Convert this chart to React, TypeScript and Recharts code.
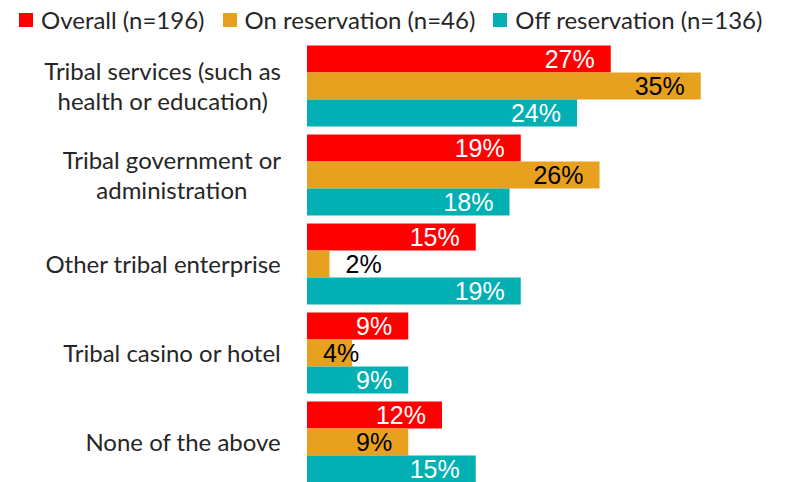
import { BarChart, Bar, XAxis, YAxis, Legend, LabelList } from 'recharts';

const categories = [
  'Tribal services (such as health or education)',
  'Tribal government or administration',
  'Other tribal enterprise',
  'Tribal casino or hotel',
  'None of the above',
];
const tickLines = [
  ['Tribal services (such as', 'health or education)'],
  ['Tribal government or', 'administration'],
  ['Other tribal enterprise'],
  ['Tribal casino or hotel'],
  ['None of the above'],
];
const overall = [27, 19, 15, 9, 12];
const onReservation = [35, 26, 2, 4, 9];
const offReservation = [24, 18, 19, 9, 15];

const seriesNames = ['Overall (n=196)', 'On reservation (n=46)', 'Off reservation (n=136)'];
const colors = ['#FF0000', '#E7A11F', '#02AFB3'];
const labelColors = ['#FFFFFF', '#000000', '#FFFFFF'];

const data = categories.map((name, i) => ({
  name,
  overall: overall[i],
  onRes: onReservation[i],
  offRes: offReservation[i],
}));

const catFont = 'Lato, "Open Sans", sans-serif';
const catSize = 24;
const labelSize = 25;
const labelFont = '"Liberation Sans", Arial, sans-serif';

const measure = (txt: string, font: string) => {
  const c = document.createElement('canvas').getContext('2d');
  if (!c) return txt.length * 10;
  c.font = font;
  return c.measureText(txt).width;
};

const CategoryTick = (props: any) => {
  const { x, y, payload } = props;
  const idx = categories.indexOf(payload.value);
  const lines = tickLines[idx] || [payload.value];
  const font = `${catSize}px ${catFont}`;
  const maxW = Math.max(...lines.map((l) => measure(l, font)));
  const cx = x - maxW / 2;
  const lh = 30;
  const startY = y - ((lines.length - 1) * lh) / 2;
  return (
    <text textAnchor="middle" fontFamily={catFont} fontSize={catSize} fill="#262626">
      {lines.map((l, i) => (
        <tspan key={i} x={cx} y={startY + i * lh + 8}>
          {l}
        </tspan>
      ))}
    </text>
  );
};

const makeLabel = (color: string) => (props: any) => {
  const { x, y, width, height, value } = props;
  const txt = `${value}%`;
  const tw = measure(txt, `${labelSize}px ${labelFont}`);
  let start = x + width - 16 - tw;
  if (width < 30) start = x + width + 16;
  else if (start < x + 16) start = x + 16;
  return (
    <text x={start} y={y + height / 2 + 9} textAnchor="start" fontFamily={labelFont} fontSize={labelSize} fill={color}>
      {txt}
    </text>
  );
};

const LegendContent = () => (
  <div
    style={{
      display: 'flex',
      alignItems: 'center',
      whiteSpace: 'nowrap',
      fontFamily: catFont,
      fontSize: 24,
      lineHeight: '26px',
      color: '#262626',
      paddingLeft: 19,
    }}
  >
    {seriesNames.map((n, i) => (
      <div key={n} style={{ display: 'flex', alignItems: 'center', marginRight: 18, flexShrink: 0 }}>
        <span style={{ display: 'inline-block', width: 14, height: 14, background: colors[i], marginRight: 8 }} />
        <span>{n}</span>
      </div>
    ))}
  </div>
);

export default function App() {
  return (
    <div style={{ position: 'absolute', top: 0, left: 0, width: 787, height: 482, overflow: 'hidden', background: '#fff' }}>
      <BarChart
        width={787}
        height={492}
        data={data}
        layout="vertical"
        margin={{ top: 16, right: 30, bottom: 5, left: 0 }}
        barCategoryGap={3.5}
        barGap={0}
      >
        <XAxis type="number" domain={[0, 40]} hide />
        <YAxis
          type="category"
          dataKey="name"
          width={307}
          axisLine={false}
          tickLine={false}
          tickSize={6}
          tickMargin={20}
          tick={<CategoryTick />}
          interval={0}
        />
        <Legend
          verticalAlign="top"
          align="left"
          content={<LegendContent />}
          wrapperStyle={{ top: 7, left: 0, width: 787 }}
        />
        <Bar dataKey="overall" name={seriesNames[0]} fill={colors[0]} isAnimationActive={false}>
          <LabelList dataKey="overall" content={makeLabel(labelColors[0])} />
        </Bar>
        <Bar dataKey="onRes" name={seriesNames[1]} fill={colors[1]} isAnimationActive={false}>
          <LabelList dataKey="onRes" content={makeLabel(labelColors[1])} />
        </Bar>
        <Bar dataKey="offRes" name={seriesNames[2]} fill={colors[2]} isAnimationActive={false}>
          <LabelList dataKey="offRes" content={makeLabel(labelColors[2])} />
        </Bar>
      </BarChart>
    </div>
  );
}
